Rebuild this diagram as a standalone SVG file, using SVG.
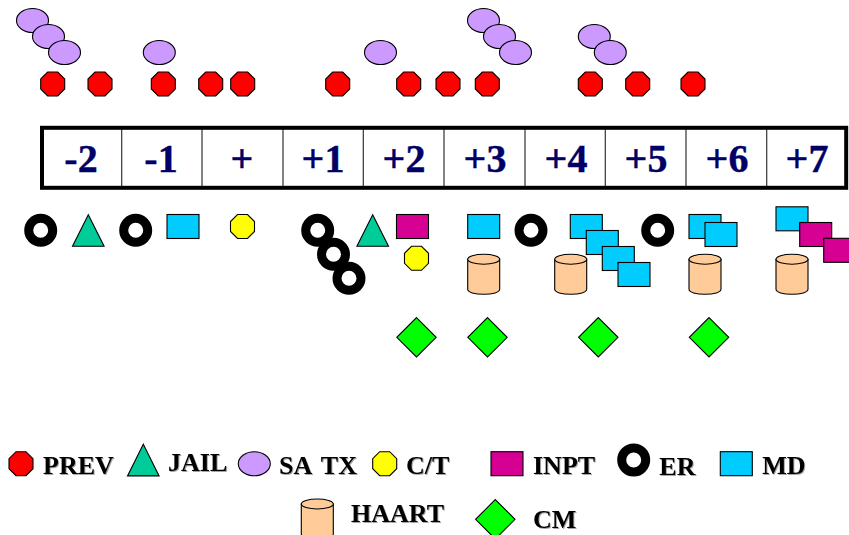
<svg xmlns="http://www.w3.org/2000/svg" width="849" height="535" viewBox="0 0 849 535">
<style>
.s{stroke:#000;stroke-width:1.1}
.sa{fill:#cc99ff}.prev{fill:#ff0000}.ct{fill:#ffff00}.md{fill:#00ccff}.inpt{fill:#d60093}.jail{fill:#00cc99}.cm{fill:#00ff00}.haart{fill:#ffcc99}
.ring{fill:none;stroke:#000;stroke-width:9}
.cell{stroke:#333;stroke-width:1.2}
.num{font:bold 40px "Liberation Serif","Times New Roman",serif;fill:#000066;stroke:#000066;stroke-width:.4;text-anchor:middle}
.leg{font:bold 26px "Liberation Serif","Times New Roman",serif;fill:#000;filter:url(#sh)}
</style>
<defs>
<filter id="sh" x="-5%" y="-10%" width="110%" height="125%"><feDropShadow dx="1" dy="1" stdDeviation="0.6" flood-color="#000" flood-opacity="0.35"/></filter>
<ellipse id="e" class="s sa" rx="16" ry="12"/>
<polygon id="o" class="s" points="-5,-12 5,-12 12,-5 12,5 5,12 -5,12 -12,5 -12,-5"/>
<rect id="r" class="s" width="32" height="24"/>
<circle id="g" class="ring" r="12"/>
<polygon id="t" class="s jail" points="0,-16 -15.8,15.6 15.8,15.6"/>
<polygon id="d" class="s cm" points="0,-19.7 19.7,0 0,19.7 -19.7,0"/>
<g id="c"><path class="s haart" d="M0,5v30c0,3 7,5 16,5s16,-2 16,-5v-30z"/><ellipse class="s haart" cx="16" cy="5" rx="16" ry="5"/></g>
</defs>
<rect width="849" height="535" fill="#fff"/>
<g id="sa-tx-top">
<use href="#e" x="32.5" y="20.5"/><use href="#e" x="48.5" y="36.5"/><use href="#e" x="64.5" y="52.5"/>
<use href="#e" x="159.3" y="52.5"/><use href="#e" x="380.5" y="52.5"/>
<use href="#e" x="483.5" y="20.5"/><use href="#e" x="499.5" y="36.5"/><use href="#e" x="515.5" y="52.5"/>
<use href="#e" x="594.3" y="36.5"/><use href="#e" x="610.3" y="52.5"/>
</g>
<g id="prev-top" class="prev">
<use href="#o" x="52.7" y="84"/><use href="#o" x="100" y="84"/><use href="#o" x="163.3" y="84"/><use href="#o" x="210.7" y="84"/><use href="#o" x="242.7" y="84"/><use href="#o" x="337.7" y="84"/><use href="#o" x="408.7" y="84"/><use href="#o" x="448" y="84"/><use href="#o" x="487.3" y="84"/><use href="#o" x="590.3" y="84"/><use href="#o" x="637.7" y="84"/><use href="#o" x="693" y="84"/>
</g>
<g id="timeline">
<g class="cell"><path d="M121.7,128V187M202,128V187M283,128V187M363.3,128V187M444,128V187M525,128V187M605.3,128V187M686,128V187M766.7,128V187"/></g>
<rect x="42" y="127.8" width="804.2" height="60" fill="none" stroke="#000" stroke-width="4"/>
<text class="num" x="81" y="171.5">-2</text><text class="num" x="161" y="171.5">-1</text><text class="num" x="242" y="171.5">+</text><text class="num" x="323" y="171.5">+1</text><text class="num" x="404" y="171.5">+2</text><text class="num" x="485" y="171.5">+3</text><text class="num" x="566" y="171.5">+4</text><text class="num" x="646" y="171.5">+5</text><text class="num" x="727" y="171.5">+6</text><text class="num" x="807" y="171.5">+7</text>
</g>
<g id="events">
<use href="#g" x="40.7" y="230.3"/><use href="#t" x="88.3" y="230.7"/><use href="#g" x="135.7" y="230.3"/>
<use href="#r" x="167" y="214.5" class="md"/><use href="#o" x="242.5" y="226.5" class="ct"/>
<use href="#g" x="317.7" y="230.3"/><use href="#g" x="333.5" y="254.3"/><use href="#g" x="349" y="278.3"/>
<use href="#t" x="372.7" y="230.7"/><use href="#r" x="396.5" y="214.5" class="inpt"/><use href="#o" x="416.5" y="258.3" class="ct"/>
<use href="#r" x="467.7" y="214.5" class="md"/><use href="#g" x="531" y="230.3"/>
<use href="#r" x="570.3" y="214.5" class="md"/><use href="#r" x="586.3" y="230.5" class="md"/><use href="#r" x="602.3" y="246.5" class="md"/><use href="#r" x="618" y="262.5" class="md"/>
<use href="#g" x="657.7" y="230.3"/>
<use href="#r" x="689" y="214.5" class="md"/><use href="#r" x="705" y="222.5" class="md"/>
<use href="#c" x="467.7" y="254.3"/><use href="#c" x="554.7" y="254.3"/><use href="#c" x="689" y="254.3"/><use href="#c" x="776" y="254.3"/>
<use href="#r" x="776" y="206.8" class="md"/><use href="#r" x="799.7" y="222.5" class="inpt"/><use href="#r" x="823.7" y="238.3" class="inpt"/>
<use href="#d" x="416.5" y="337.3"/><use href="#d" x="487.5" y="337.3"/><use href="#d" x="598.3" y="337.3"/><use href="#d" x="709" y="337.3"/>
</g>
<g id="legend-prev"><use href="#o" x="21" y="463.7" class="prev"/><text class="leg" x="43" y="473.5">PREV</text></g>
<g id="legend-jail"><use href="#t" x="143.3" y="460.3"/><text class="leg" x="168" y="471">JAIL</text></g>
<g id="legend-satx"><use href="#e" x="254.3" y="463.7"/><text class="leg" x="279" y="473.5" word-spacing="4">SA TX</text></g>
<g id="legend-ct"><use href="#o" x="384.7" y="463.7" class="ct"/><text class="leg" x="406" y="473.5">C/T</text></g>
<g id="legend-inpt"><use href="#r" x="491" y="451.7" class="inpt"/><text class="leg" x="533" y="473.5">INPT</text></g>
<g id="legend-er"><use href="#g" x="633.7" y="460"/><text class="leg" x="659.3" y="475">ER</text></g>
<g id="legend-md"><use href="#r" x="720.3" y="451.7" class="md"/><text class="leg" x="762.3" y="473.5">MD</text></g>
<g id="legend-haart"><use href="#c" x="301.3" y="499"/><text class="leg" x="351" y="522.3">HAART</text></g>
<g id="legend-cm"><use href="#d" x="495.3" y="519.3"/><text class="leg" x="533" y="528.3">CM</text></g>
</svg>
